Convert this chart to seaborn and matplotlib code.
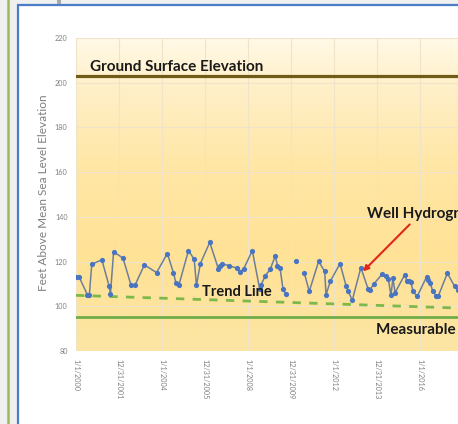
import numpy as np
import pandas as pd
import matplotlib
matplotlib.use("Agg")
import matplotlib.pyplot as plt
import matplotlib.patches as mpatches
import matplotlib.lines as mlines
from matplotlib.colors import LinearSegmentedColormap
import seaborn as sns

# ---------------- data ----------------
obs_dates = [
    "2000-01-01", "2000-02-20", "2000-07-12", "2000-08-15", "2000-09-25",
    "2001-03-15", "2001-07-18", "2001-08-08", "2001-10-01", "2002-03-10",
    "2002-07-22", "2002-09-27", "2003-03-07", "2003-10-01", "2004-04-01",
    "2004-07-12", "2004-08-25", "2004-10-15", "2005-03-25", "2005-07-01",
    "2005-08-08", "2005-10-12", "2006-03-22", "2006-08-15", "2006-09-12",
    "2006-10-15", "2007-02-14", "2007-07-01", "2007-08-10", "2007-10-20",
    "2008-03-14", "2008-07-16", "2008-08-04", "2008-10-20", "2009-01-12",
    "2009-04-08", "2009-05-15", "2009-06-28", "2009-08-18", "2009-10-01",
    "2010-04-01",
    "2010-08-15", "2010-11-06", "2011-04-15", "2011-07-26", "2011-08-18",
    "2011-10-30", "2012-04-12", "2012-07-26", "2012-08-25", "2012-11-06",
    "2013-04-01", "2013-07-30", "2013-09-02", "2013-11-10", "2014-04-01",
    "2014-05-26", "2014-07-12", "2014-08-25", "2014-09-27", "2014-11-03",
    "2015-04-16", "2015-05-26", "2015-06-28", "2015-07-31", "2015-09-02",
    "2015-11-14", "2016-04-23", "2016-05-22", "2016-06-21", "2016-08-04",
    "2016-10-05", "2016-11-03", "2017-04-09", "2017-08-11", "2017-10-09",
]
obs_levels = [
    112.9, 113.3, 105.2, 105.2, 118.8,
    120.8, 108.9, 105.5, 124.4, 121.5,
    109.6, 109.3, 118.5, 115.1, 123.6,
    115.1, 110.4, 109.6, 124.9, 121.0,
    109.3, 119.0, 128.6, 116.8, 117.8,
    119.0, 118.2, 117.0, 115.2, 116.8,
    124.9, 107.9, 109.3, 113.6, 116.6,
    122.5, 118.2, 117.0, 107.7, 105.5,
    120.4,
    114.8, 106.7, 120.1, 115.6, 105.2,
    111.2, 119.1, 108.9, 107.0, 102.7,
    117.3, 107.9, 107.4, 110.1, 114.5,
    113.6, 112.0, 104.9, 112.6, 106.1,
    114.1, 111.1, 111.1, 110.8, 106.7,
    104.4, 113.3, 111.9, 110.5, 106.7,
    104.4, 104.4, 114.8, 108.9, 107.4,
]
segment_ids = [0] * 40 + [1] + [2] * 35

trend_dates = ["2000-01-01", "2019-12-31"]
trend_levels = [104.9, 98.5]

ground_surface = 203.2
measurable_level = 95.4

x_tick_dates = ["2000-01-01", "2001-12-31", "2004-01-01", "2005-12-31",
                "2008-01-01", "2009-12-31", "2012-01-01", "2013-12-31",
                "2016-01-01"]
x_tick_labels = ["1/1/2000", "12/31/2001", "1/1/2004", "12/31/2005",
                 "1/1/2008", "12/31/2009", "1/1/2012", "12/31/2013",
                 "1/1/2016"]
y_ticks = [80, 100, 120, 140, 160, 180, 200, 220]

# ---------------- style ----------------
sns.set_style("white")
plt.rcParams["font.family"] = ["Lato", "DejaVu Sans"]

W, H = 458, 424
fig = plt.figure(figsize=(W / 100, H / 100), dpi=100, facecolor="#F0F0F0")

# outer frame decorations
fig.patches.append(mpatches.Rectangle((18 / W, -0.1), 2.0, (H - 5) / H + 0.1,
                                      transform=fig.transFigure, facecolor="white",
                                      edgecolor="#4A7CC7", lw=1.6, zorder=-10))
fig.lines.append(mlines.Line2D([8 / W, 8 / W], [0, 1], transform=fig.transFigure,
                               color="#9BBB59", lw=1.8, zorder=-5))
fig.patches.append(mpatches.Rectangle((57 / W, 1 - 4 / H), 4 / W, 4 / H,
                                      transform=fig.transFigure, facecolor="#A8A8A8",
                                      edgecolor="none", zorder=-5))

ax = fig.add_axes([76 / W, 73 / H, 430 / W, 313 / H])
ax.set_zorder(2)

# gradient background (bottom -> top)
cmap = LinearSegmentedColormap.from_list("bg", [
    (0.0, "#FCE5A4"), (0.3, "#FFE296"), (0.6, "#FFE7A6"),
    (0.85, "#FFF0CA"), (1.0, "#FFF9E6")])
grad = np.linspace(0, 1, 256).reshape(-1, 1)
ax.imshow(grad, cmap=cmap, aspect="auto", extent=[0, 1, 0, 1], origin="lower",
          transform=ax.transAxes, zorder=0, interpolation="bicubic")

x0 = pd.Timestamp("2000-01-01")
x1 = pd.Timestamp("2019-12-31")

ax.axhline(ground_surface, color="#6E5C17", lw=2.3, zorder=3)
ax.axhline(measurable_level, color="#70AD47", lw=2.0, zorder=3)

trend_df = pd.DataFrame({"date": pd.to_datetime(trend_dates), "level": trend_levels})
sns.lineplot(data=trend_df, x="date", y="level", ax=ax, color="#7DB84A", lw=2.0,
             linestyle=(0, (3, 3)), zorder=3)

df = pd.DataFrame({"date": pd.to_datetime(obs_dates), "level": obs_levels,
                   "segment": segment_ids})
sns.lineplot(data=df, x="date", y="level", units="segment", estimator=None,
             ax=ax, color="#6F7E98", lw=1.1, zorder=4, legend=False)
sns.scatterplot(data=df, x="date", y="level", ax=ax, color="#4874C2", s=14,
                linewidth=0, zorder=5, legend=False)

ax.set_xlim(x0, x1)
ax.set_ylim(80, 220)
ax.set_xticks(pd.to_datetime(x_tick_dates))
ax.set_xticklabels(x_tick_labels, rotation=270, ha="center", va="top",
                   fontsize=5.2, color="#808080")
ax.set_yticks(y_ticks)
ax.set_yticklabels([str(v) for v in y_ticks], fontsize=5.2, color="#808080")
ax.tick_params(axis="both", length=0)
ax.tick_params(axis="x", pad=6)
ax.tick_params(axis="y", pad=6)
ax.set_xlabel("")
ax.set_ylabel("")
ax.grid(True, color="#EFE4C8", lw=0.8)
ax.set_axisbelow(True)
for s in ax.spines.values():
    s.set_visible(False)

fig.text(44 / W, 1 - 193 / H, "Feet Above Mean Sea Level Elevation", rotation=90,
         ha="center", va="center", fontsize=8.5, color="#7F7F7F")

bold = dict(fontweight="bold", color="#1A1A1A", va="center", ha="left", zorder=6)
ax.text(pd.Timestamp("2000-08-25"), 207.2, "Ground Surface Elevation", fontsize=11, **bold)
ax.text(pd.Timestamp("2005-11-10"), 106.2, "Trend Line", fontsize=10.5, **bold)
ax.text(pd.Timestamp("2013-12-08"), 89.3, "Measurable Objective", fontsize=11, **bold)
ax.text(pd.Timestamp("2013-07-13"), 141.3, "Well Hydrograph", fontsize=11, **bold)
ax.annotate("", xy=(pd.Timestamp("2013-05-08"), 115.6),
            xytext=(pd.Timestamp("2015-07-09"), 136.6),
            arrowprops=dict(arrowstyle="-|>", color="#E3261C", lw=1.5,
                            mutation_scale=8, shrinkA=0, shrinkB=0), zorder=6)

fig.savefig("out.png", dpi=100, facecolor=fig.get_facecolor())
